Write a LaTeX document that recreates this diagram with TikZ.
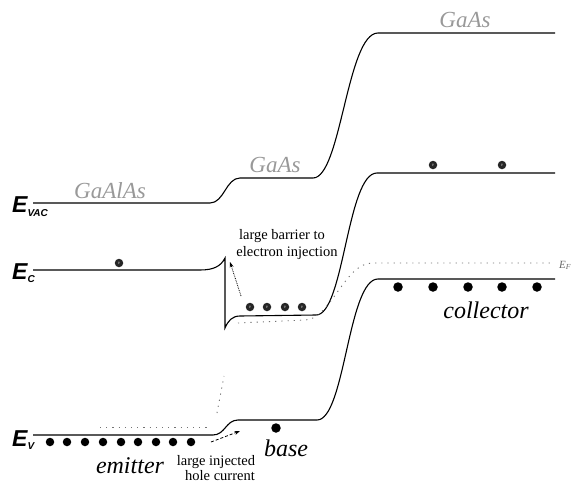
\documentclass[tikz,border=0pt]{standalone}
\usepackage{fontspec}
\setmainfont{Liberation Serif}
\newfontfamily\labelsans{Liberation Sans}
\usetikzlibrary{arrows.meta}
\begin{document}
\begin{tikzpicture}[x=1pt,y=-1pt,
  band/.style={line width=1.1pt, black},
  fermi/.style={black!55, line width=0.9pt, dash pattern=on 1.2pt off 5pt},
  electron/.style={circle, fill=black!85, minimum size=8.5pt, inner sep=0pt,
    font=\fontsize{5}{5}\selectfont, text=black!30},
  hole/.style={circle, fill=black, minimum size=8.5pt, inner sep=0pt},
  bandlabel/.style={font=\labelsans\bfseries\itshape\fontsize{23}{23}\selectfont,
    inner sep=0pt, anchor=base west},
  material/.style={font=\itshape\fontsize{23}{23}\selectfont, text=black!40,
    inner sep=0pt, anchor=base},
  region/.style={font=\itshape\fontsize{24}{24}\selectfont, inner sep=0pt, anchor=base},
  note/.style={font=\fontsize{14.5}{14.5}\selectfont, inner sep=0pt, anchor=base},
  injarrow/.style={line width=0.8pt, -{Stealth[length=5.5pt,width=4pt]}},
]
\useasboundingbox (0,0) rectangle (571,493);

% vacuum level
\draw[band] (33,203) -- (210,203) .. controls (224,203) and (226,178) .. (240,178)
  -- (313,178) .. controls (341,178) and (347,33) .. (378,33) -- (555,33);
% conduction band edge with the emitter-base spike
\draw[band] (33,270) -- (200,270) .. controls (214,270) and (221,266) .. (225,258)
  -- (225,328) .. controls (228,321) and (232,316) .. (240,316)
  -- (316,315) .. controls (344,315) and (347,173) .. (377,173) -- (555,173);
% valence band edge
\draw[band] (33,435) -- (213,435) .. controls (225,435) and (226,420) .. (238,420)
  -- (317,420) .. controls (345,420) and (348,279) .. (378,279) -- (555,279);

% Fermi level traces
\draw[fermi] (238,323) -- (305,320) .. controls (330,320) and (345,263) .. (372,263) -- (553,263);
\draw[fermi] (100,427) -- (210,427);
\draw[fermi] (217,413) -- (224,376);

% injection arrows
\coordinate (inj-from) at (241,296);
\coordinate (inj-to) at (230,262);
\draw[injarrow, densely dotted] (inj-from) -- (inj-to);
\coordinate (hole-from) at (211,442);
\coordinate (hole-to) at (240,431);
\draw[injarrow, densely dashed] (hole-from) -- (hole-to);

% electrons
\node[electron] (eE) at (119,263) {e};
\foreach \x [count=\i] in {250,267,285,302}
  \node[electron] (eB\i) at (\x,307) {e};
\foreach \x [count=\i] in {433,502}
  \node[electron] (eC\i) at (\x,165) {e};

% holes
\foreach \x [count=\i] in {50,67,85,103,121,138,156,173,191}
  \node[hole] (hE\i) at (\x,442) {};
\node[hole, minimum size=9.5pt] (hB) at (276,428) {};
\foreach \x [count=\i] in {398,433,468,502,537}
  \node[hole, minimum size=9.5pt] (hC\i) at (\x,287) {};

% band labels
\node[bandlabel] (evac) at (12,212) {E\raisebox{-4.5pt}{\fontsize{10}{10}\selectfont VAC}};
\node[bandlabel] (ec) at (12,279) {E\raisebox{-3.5pt}{\fontsize{10}{10}\selectfont C}};
\node[bandlabel] (ev) at (12,446) {E\raisebox{-3pt}{\fontsize{10}{10}\selectfont V}};
\node[font=\itshape\fontsize{11}{11}\selectfont, anchor=base west, inner sep=0pt, text=black!60]
  (ef) at (559,268) {E\textsubscript{F}};

% materials
\node[material] (mE) at (110,198) {GaAlAs};
\node[material] (mB) at (275,172) {GaAs};
\node[material] (mC) at (465,27) {GaAs};

% regions
\node[region] (rE) at (130,473) {emitter};
\node[region] (rB) at (286,456) {base};
\node[region] (rC) at (486,318) {collector};

% notes
\node[note] (n1) at (282,239) {large barrier to};
\node[note] (n2) at (287,256) {electron injection};
\node[note] (n3) at (216,465) {large injected};
\node[note] (n4) at (220,480) {hole current};
\end{tikzpicture}
\end{document}
